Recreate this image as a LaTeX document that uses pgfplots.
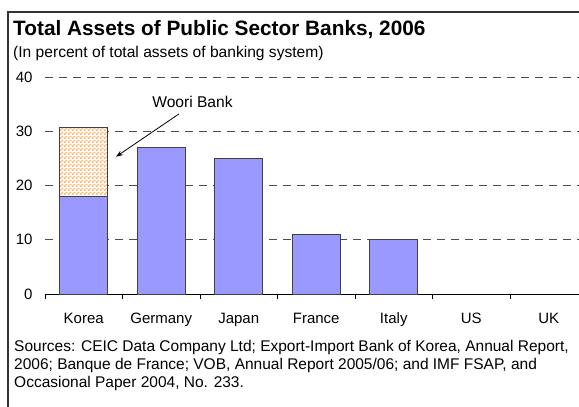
\documentclass[border=0pt]{standalone}
\usepackage{fontspec}
\setmainfont{Liberation Sans}
\usepackage{pgfplots}
\pgfplotsset{compat=1.18}
\usetikzlibrary{patterns,arrows.meta}
\pgfdeclarepatternformonly{checker}{\pgfqpoint{0pt}{0pt}}{\pgfqpoint{4pt}{4pt}}{\pgfqpoint{4pt}{4pt}}{%
  \pgfpathrectangle{\pgfqpoint{0pt}{0pt}}{\pgfqpoint{2pt}{2pt}}%
  \pgfpathrectangle{\pgfqpoint{2pt}{2pt}}{\pgfqpoint{2pt}{2pt}}%
  \pgfusepath{fill}}
\definecolor{barblue}{HTML}{9999FF}
\definecolor{chk}{HTML}{FFB266}
\begin{document}
\begin{tikzpicture}
\useasboundingbox (0pt,0pt) rectangle (579pt,407pt);
\fill[white] (0pt,0pt) rectangle (579pt,407pt);
\draw[line width=1.3pt, black!80] (8pt,0pt) -- (8pt,395pt) -- (579pt,395pt);
\node[anchor=base west, inner sep=0pt, font=\fontsize{20.8}{24}\selectfont\bfseries] at (13pt,371pt) {Total Assets of Public Sector Banks, 2006};
\node[anchor=base west, inner sep=0pt, font=\fontsize{15.6}{18}\selectfont] at (13pt,349.5pt) {(In percent of total assets of banking system)};
\begin{axis}[at={(45pt,113pt)}, anchor=south west, scale only axis,
  width=542.5pt, height=217pt,
  xmin=-0.5, xmax=6.5, ymin=0, ymax=40,
  ybar stacked, bar width=48pt,
  axis x line*=bottom, axis y line*=left,
  x axis line style={-, black, line width=0.9pt},
  y axis line style={draw=none},
  ytick={0,10,20,30,40},
  ymajorgrids, grid style={black!70, line width=0.7pt, dash pattern=on 8pt off 6pt},
  ytick style={draw=none},
  xtick={0,...,6},
  xticklabels={Korea,Germany,Japan,France,Italy,US,UK},
  minor xtick={-0.5,0.5,...,6.5},
  major tick length=0pt, minor tick length=5pt, tick align=outside,
  minor x tick style={black, line width=0.9pt},
  tick label style={font=\fontsize{15}{18}\selectfont},
  /pgf/number format/assume math mode=true,
  xticklabel style={anchor=base, yshift=-30pt},
  yticklabel style={xshift=-9pt},
  clip=false,
]
\addplot[fill=barblue, draw=black!75, line width=0.8pt] coordinates {(0,18) (1,27) (2,25) (3,11) (4,10) (5,0) (6,0)};
\addplot[fill=white, postaction={pattern=checker, pattern color=chk}, draw=black!75, line width=0.8pt] coordinates {(0,12.7) (1,0) (2,0) (3,0) (4,0) (5,0) (6,0)};
\node[anchor=base, inner sep=0pt, font=\fontsize{15.6}{18}\selectfont] at (axis cs:1.403,34.3) {Woori Bank};
\draw[-{Stealth[length=7pt,width=5pt]}, line width=0.8pt] (axis cs:1.229,33.2) -- (axis cs:0.416,25.3);
\end{axis}
\node[anchor=base west, inner sep=0pt, font=\fontsize{15.5}{18}\selectfont] at (14pt,55pt) {Sources: CEIC Data Company Ltd; Export-Import Bank of Korea, Annual Report,};
\node[anchor=base west, inner sep=0pt, font=\fontsize{15.5}{18}\selectfont] at (14pt,37pt) {2006; Banque de France; VOB, Annual Report 2005/06; and IMF FSAP, and};
\node[anchor=base west, inner sep=0pt, font=\fontsize{15.5}{18}\selectfont] at (14pt,19pt) {Occasional Paper 2004, No. 233.};
\end{tikzpicture}
\end{document}
